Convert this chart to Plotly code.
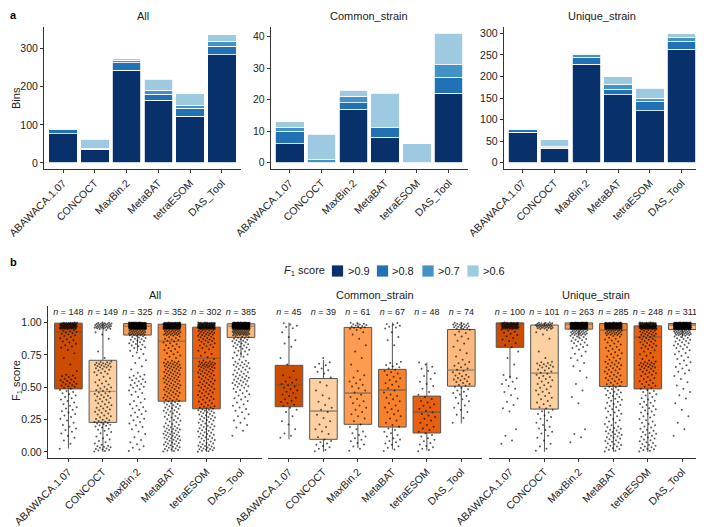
import plotly.graph_objects as go

methods = ["ABAWACA.1.07", "CONCOCT", "MaxBin.2", "MetaBAT", "tetraESOM", "DAS_Tool"]
panels = ["All", "Common_strain", "Unique_strain"]
bands = [">0.9", ">0.8", ">0.7", ">0.6"]
blues = ["#08306b", "#2171b5", "#4292c6", "#9ecae1"]
oranges = ["#cc4c02", "#fdd0a2", "#fd9c51", "#f7812a", "#e6600f", "#fdb97d"]

# bins per F1 band (stacked segments)
all_09 = [77, 35, 244, 164, 123, 284]
all_08 = [11, 1, 19, 16, 20, 23]
all_07 = [3, 2, 7, 11, 8, 12]
all_06 = [2, 24, 4, 29, 31, 18]

common_09 = [6, 0, 17, 8, 0, 22]
common_08 = [4, 0, 2, 3, 0, 5]
common_07 = [1, 1, 2, 0, 0, 4]
common_06 = [2, 8, 2, 11, 6, 10]

unique_09 = [71, 34, 228, 157, 121, 263]
unique_08 = [7, 1, 17, 13, 20, 19]
unique_07 = [2, 2, 6, 12, 9, 9]
unique_06 = [1, 16, 3, 17, 23, 8]

# sample sizes
n_all = [148, 149, 325, 352, 302, 385]
n_common = [45, 39, 61, 67, 48, 74]
n_unique = [100, 101, 263, 285, 248, 311]

# box statistics
all_lo = [0.026, 0.0, 0.78, 0.0, 0.0, 0.73]
all_q1 = [0.487, 0.228, 0.903, 0.392, 0.333, 0.885]
all_med = [0.928, 0.467, 0.970, 0.854, 0.723, 0.970]
all_q3 = [0.995, 0.708, 0.992, 0.987, 0.964, 0.990]
all_hi = [1.0, 1.0, 1.0, 1.0, 1.0, 1.0]

common_lo = [0.097, 0.0, 0.03, 0.018, 0.01, 0.22]
common_q1 = [0.349, 0.097, 0.213, 0.192, 0.146, 0.508]
common_med = [0.515, 0.315, 0.454, 0.479, 0.308, 0.631]
common_q3 = [0.669, 0.567, 0.962, 0.638, 0.431, 0.946]
common_hi = [1.0, 0.71, 1.0, 1.0, 0.69, 1.0]

unique_lo = [0.567, 0.0, 0.88, 0.0, 0.0, 0.88]
unique_q1 = [0.808, 0.331, 0.949, 0.505, 0.487, 0.946]
unique_med = [0.993, 0.608, 0.985, 0.941, 0.890, 0.980]
unique_q3 = [0.997, 0.980, 0.997, 0.992, 0.974, 0.992]
unique_hi = [1.0, 1.0, 1.0, 1.0, 1.0, 1.0]

# F1 score counts in 0.05-wide bins, 0.00-0.05 ... 0.95-1.00, one row per method
hist_all = [
    [1, 2, 3, 4, 3, 4, 5, 4, 5, 6, 10, 8, 1, 1, 1, 2, 5, 6, 10, 67],
    [12, 5, 4, 6, 12, 7, 8, 7, 8, 8, 6, 4, 8, 16, 1, 1, 0, 1, 3, 32],
    [4, 3, 2, 3, 4, 4, 5, 4, 3, 5, 7, 7, 2, 2, 3, 4, 8, 11, 30, 214],
    [12, 12, 13, 12, 8, 8, 10, 11, 10, 11, 12, 13, 13, 16, 5, 6, 7, 9, 24, 140],
    [14, 9, 10, 10, 9, 11, 13, 7, 8, 9, 10, 10, 12, 19, 4, 4, 8, 12, 18, 105],
    [0, 0, 1, 2, 3, 3, 4, 4, 5, 6, 10, 10, 8, 10, 5, 7, 10, 13, 40, 244],
]
hist_common = [
    [0, 0, 3, 1, 2, 1, 3, 5, 4, 5, 5, 3, 1, 1, 1, 0, 2, 2, 1, 5],
    [5, 5, 2, 3, 2, 2, 3, 2, 2, 1, 2, 1, 4, 4, 1, 0, 0, 0, 0, 0],
    [3, 4, 4, 3, 2, 3, 3, 3, 3, 3, 4, 3, 1, 1, 1, 1, 1, 1, 3, 14],
    [4, 5, 4, 4, 3, 3, 4, 3, 4, 3, 4, 4, 5, 6, 0, 0, 1, 2, 1, 7],
    [5, 4, 4, 4, 3, 4, 4, 4, 3, 2, 3, 2, 3, 3, 0, 0, 0, 0, 0, 0],
    [0, 0, 0, 0, 1, 2, 3, 3, 4, 5, 7, 8, 5, 5, 2, 2, 2, 3, 4, 18],
]
hist_unique = [
    [0, 2, 1, 1, 0, 0, 2, 2, 2, 2, 3, 4, 0, 1, 1, 1, 3, 4, 6, 65],
    [3, 2, 3, 4, 3, 4, 5, 4, 4, 5, 5, 6, 6, 10, 1, 1, 0, 1, 3, 31],
    [0, 1, 2, 1, 0, 0, 0, 1, 1, 1, 1, 1, 1, 2, 3, 3, 7, 10, 25, 203],
    [8, 8, 9, 8, 5, 5, 6, 6, 7, 8, 8, 8, 8, 9, 6, 6, 6, 7, 22, 135],
    [9, 7, 7, 6, 5, 5, 6, 6, 5, 6, 7, 6, 9, 14, 4, 5, 9, 11, 16, 105],
    [0, 0, 1, 1, 1, 1, 1, 1, 2, 2, 2, 2, 4, 4, 4, 5, 8, 10, 30, 232],
]

# page body has an 8px margin, so the figure is drawn 8px in from the top-left
OFF = 8
W, H = 704 - OFF, 527 - OFF
FONT = "Liberation Sans, Arial, sans-serif"
xs = list(range(len(methods)))


def px_x(p):
    return max(p - OFF, 0) / W


def px_y(p):
    return 1 - max(p - OFF, 0) / H


def shade(hex_col, a=0.45, base=85):
    r, g, b = (int(hex_col[i:i + 2], 16) for i in (1, 3, 5))
    return "rgb({},{},{})".format(*(round(c * (1 - a) + base * a) for c in (r, g, b)))


fig = go.Figure()

# ---- a: stacked bars
bar_sets = [
    [all_09, all_08, all_07, all_06],
    [common_09, common_08, common_07, common_06],
    [unique_09, unique_08, unique_07, unique_06],
]
for pi, segs in enumerate(bar_sets):
    for bi, vals in enumerate(segs):
        fig.add_trace(go.Bar(
            x=xs, y=vals, width=0.9, name=bands[bi],
            marker=dict(color=blues[bi], line=dict(color="white", width=0.8)),
            xaxis=f"x{pi + 1}", yaxis=f"y{pi + 1}", showlegend=False,
        ))

# ---- b: boxes + jittered points
box_sets = [
    (all_lo, all_q1, all_med, all_q3, all_hi, hist_all, n_all),
    (common_lo, common_q1, common_med, common_q3, common_hi, hist_common, n_common),
    (unique_lo, unique_q1, unique_med, unique_q3, unique_hi, hist_unique, n_unique),
]
for pi, (lo, q1, med, q3, hi, hist, ns) in enumerate(box_sets):
    ax = pi + 4
    for mi in xs:
        fig.add_trace(go.Box(
            x=[mi], lowerfence=[lo[mi]], q1=[q1[mi]], median=[med[mi]],
            q3=[q3[mi]], upperfence=[hi[mi]], width=0.8, whiskerwidth=0,
            fillcolor=oranges[mi], line=dict(color="#555555", width=1),
            boxpoints=False, xaxis=f"x{ax}", yaxis=f"y{ax}", showlegend=False,
            hoverinfo="skip",
        ))
        # median drawn again in a tinted colour, as in the original
        fig.add_trace(go.Scatter(
            x=[mi - 0.395, mi + 0.395], y=[med[mi], med[mi]], mode="lines",
            line=dict(color=shade(oranges[mi]), width=1.3),
            xaxis=f"x{ax}", yaxis=f"y{ax}", showlegend=False, hoverinfo="skip",
        ))
        px_, py_ = [], []
        k = 0
        for b, c in enumerate(hist[mi]):
            for j in range(c):
                py_.append((b + (j + 0.5) / c) * 0.05)
                px_.append(mi + ((k * 0.6180339887) % 1 - 0.5) * 0.5)
                k += 1
        fig.add_trace(go.Scatter(
            x=px_, y=py_, mode="markers",
            marker=dict(size=2, color="rgba(0,0,0,0.65)"),
            xaxis=f"x{ax}", yaxis=f"y{ax}", showlegend=False, hoverinfo="skip",
        ))
    fig.add_trace(go.Scatter(
        x=xs, y=[1.074] * len(xs), mode="text", cliponaxis=False,
        text=[f"<i>n</i> = {v}" for v in ns],
        textfont=dict(size=9, color="#222", family=FONT),
        xaxis=f"x{ax}", yaxis=f"y{ax}", showlegend=False, hoverinfo="skip",
    ))

axis_base = dict(showline=True, linecolor="#333", linewidth=1, ticks="outside",
                 ticklen=3, tickcolor="#333", showgrid=False, zeroline=False,
                 automargin=False, ticklabeloverflow="allow")
xaxis_base = dict(axis_base, tickvals=xs, ticktext=methods, tickangle=-45,
                  range=[-0.6, 5.6], tickfont=dict(size=10.5, color="#222"))

top_x = [(44, 241), (270.7, 467.7), (503.7, 700.7)]
bot_x = [(47.7, 261.7), (268.3, 482), (489.3, 703)]
top_y = (169, 27)
bot_y = (457.7, 305.7)
top_ranges = [([-16, 357], [0, 100, 200, 300]),
              ([-2, 43], [0, 10, 20, 30, 40]),
              ([-14.5, 314.5], [0, 50, 100, 150, 200, 250, 300])]

layout = {}
for i in range(3):
    layout[f"xaxis{i + 1}"] = dict(xaxis_base, domain=[px_x(top_x[i][0]), px_x(top_x[i][1])],
                                   anchor=f"y{i + 1}")
    layout[f"yaxis{i + 1}"] = dict(axis_base, domain=[px_y(top_y[0]), px_y(top_y[1])],
                                   anchor=f"x{i + 1}", range=top_ranges[i][0],
                                   tickvals=top_ranges[i][1], tickfont=dict(size=10.5, color="#222"))
    layout[f"xaxis{i + 4}"] = dict(xaxis_base, domain=[px_x(bot_x[i][0]), px_x(bot_x[i][1])],
                                   anchor=f"y{i + 4}")
    ya = dict(axis_base, domain=[px_y(bot_y[0]), px_y(bot_y[1])], anchor=f"x{i + 4}",
              range=[-0.045, 1.13], tickvals=[0, 0.25, 0.5, 0.75, 1.0],
              ticktext=["0.00", "0.25", "0.50", "0.75", "1.00"],
              tickfont=dict(size=10.5, color="#222"))
    if i > 0:
        ya.update(showline=False, ticks="", showticklabels=False, matches="y4")
    layout[f"yaxis{i + 4}"] = ya


def note(text, x, y, xanchor="center", size=11, angle=0, color="#222"):
    return dict(text=text, x=x, y=y, xref="paper", yref="paper", xanchor=xanchor,
                yanchor="middle", showarrow=False, textangle=angle,
                font=dict(size=size, color=color))


annotations = []
for i, name in enumerate(panels):
    annotations.append(note(name, px_x(sum(top_x[i]) / 2), px_y(15.5)))
    annotations.append(note(name, px_x(sum(bot_x[i]) / 2), px_y(295)))
annotations += [
    note("<b>a</b>", px_x(2), px_y(15), xanchor="left", color="black"),
    note("<b>b</b>", px_x(2), px_y(262), xanchor="left", color="black"),
    note("Bins", px_x(8), px_y(98), xanchor="left", angle=-90),
    note("F<sub>1</sub> score", px_x(8), px_y(381), xanchor="left", angle=-90),
    note("<i>F</i><sub>1</sub> score", px_x(327), px_y(271), xanchor="right"),
]

# manual legend row
shapes = []
sw_x = [331.5, 376.5, 422, 467]
for i, lab in enumerate(bands):
    shapes.append(dict(type="rect", xref="paper", yref="paper",
                       x0=px_x(sw_x[i]), x1=px_x(sw_x[i] + 12),
                       y0=px_y(277), y1=px_y(265),
                       fillcolor=blues[i], line=dict(color="white", width=0.8)))
    annotations.append(note(lab, px_x(sw_x[i] + 14), px_y(271), xanchor="left"))

fig.update_layout(
    **layout,
    template="none",
    width=W, height=H,
    margin=dict(l=0, r=0, t=0, b=0),
    barmode="stack",
    bargap=0.1,
    plot_bgcolor="white",
    paper_bgcolor="white",
    font=dict(family=FONT, size=11, color="#222"),
    annotations=annotations,
    shapes=shapes,
    showlegend=False,
)

fig.write_html("out.html")
